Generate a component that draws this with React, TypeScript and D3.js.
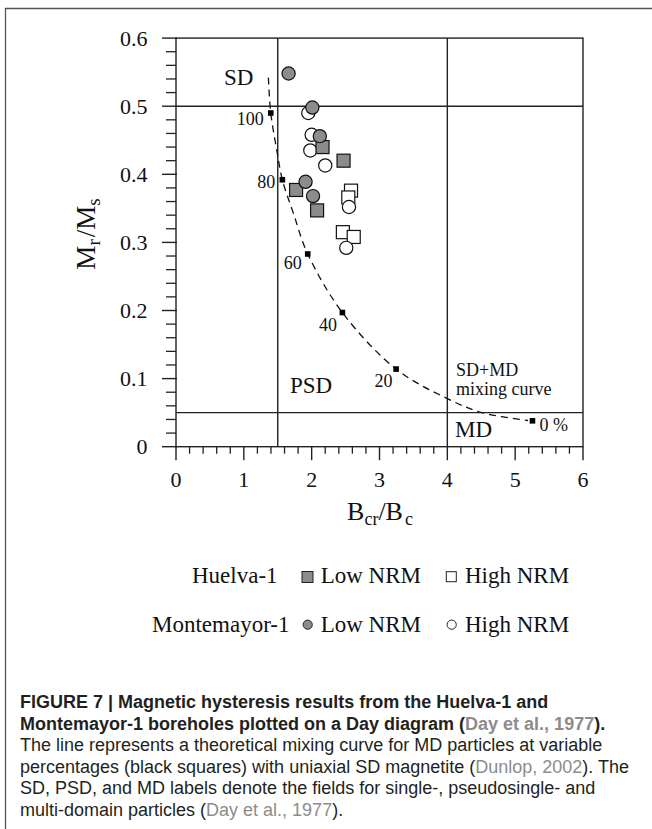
import React from "react";
import * as d3 from "d3";

const W = 652;
const H = 829;

// axis ticks
const xTickValues = [0, 1, 2, 3, 4, 5, 6];
const yTickValues = [0, 0.1, 0.2, 0.3, 0.4, 0.5, 0.6];

// data series [Bcr/Bc, Mr/Ms]
const huelvaLow: [number, number][] = [
  [2.16, 0.44],
  [2.47, 0.42],
  [1.77, 0.377],
  [2.08, 0.347],
];
const huelvaHigh: [number, number][] = [
  [2.58, 0.376],
  [2.54, 0.366],
  [2.46, 0.315],
  [2.62, 0.308],
];
const montLow: [number, number][] = [
  [1.66, 0.548],
  [2.01, 0.498],
  [2.12, 0.456],
  [1.91, 0.389],
  [2.02, 0.368],
];
const montHigh: [number, number][] = [
  [1.95, 0.49],
  [2.0, 0.458],
  [1.98, 0.435],
  [2.2, 0.413],
  [2.55, 0.352],
  [2.51, 0.292],
];

// SD+MD mixing curve
const curvePoints: [number, number][] = [
  [1.362, 0.542],
  [1.397, 0.49],
  [1.485, 0.436],
  [1.568, 0.392],
  [1.73, 0.343],
  [1.942, 0.283],
  [2.453, 0.197],
  [3.245, 0.114],
  [3.993, 0.071],
  [4.509, 0.05],
  [5.19, 0.0385],
];
const mixPct = ["100", "80", "60", "40", "20", "0 %"];
const mixX = [1.397, 1.568, 1.942, 2.453, 3.245, 5.255];
const mixY = [0.49, 0.392, 0.283, 0.197, 0.114, 0.038];

// field boundaries
const boundaryX = [1.5, 4];
const boundaryY = [0.5, 0.05];

// layout
const M = { left: 176, right: 583, top: 38.1, bottom: 446.7 };
// label offsets for mixing-curve percentages (px relative to marker)
const mixLabelOffset: [number, number, string][] = [
  [-7, 12, "end"],
  [-7, 8, "end"],
  [-6, 15, "end"],
  [-5.5, 18, "end"],
  [-3.5, 17.5, "end"],
  [7, 10.5, "start"],
];

const serif = "'Liberation Serif', 'Times New Roman', serif";
const capFont = "'Liberation Sans', Arial, sans-serif";
const GREY = "#8c8c8c";

export default function App() {
  const x = d3.scaleLinear().domain([0, 6]).range([M.left, M.right]);
  const y = d3.scaleLinear().domain([0, 0.6]).range([M.bottom, M.top]);

  const xMinor = d3.range(0, 6.0001, 0.2).filter((v) => Math.abs(v - Math.round(v)) > 1e-6);
  const yMinor = d3.range(0, 0.6001, 0.02).filter((v) => Math.abs(v * 10 - Math.round(v * 10)) > 1e-6);

  const line = d3
    .line<[number, number]>()
    .x((d) => x(d[0]))
    .y((d) => y(d[1]))
    .curve(d3.curveCatmullRom.alpha(0.5));

  const S = 13; // data square side
  const R = 6.6; // data circle radius

  const square = (d: [number, number], fill: string, k: string) => (
    <rect key={k} x={x(d[0]) - S / 2} y={y(d[1]) - S / 2} width={S} height={S} fill={fill} stroke="#111" strokeWidth={1.2} />
  );
  const circle = (d: [number, number], fill: string, k: string) => (
    <circle key={k} cx={x(d[0])} cy={y(d[1])} r={R} fill={fill} stroke="#111" strokeWidth={1.2} />
  );

  const cap1 = 708;
  const capStep = 21.5;

  return (
    <svg
      width={W}
      height={H}
      style={{ position: "absolute", left: 0, top: 0, background: "#fff" }}
      xmlns="http://www.w3.org/2000/svg"
    >
      <rect x={0} y={0} width={W} height={H} fill="#fff" />
      {/* figure box */}
      <path d={`M5.5,${H + 5} V8.5 H${W + 5}`} fill="none" stroke="#555" strokeWidth={1.3} />

      {/* plot frame */}
      <rect x={M.left} y={M.top} width={M.right - M.left} height={M.bottom - M.top} fill="none" stroke="#222" strokeWidth={1.4} />
      {boundaryX.map((v) => (
        <line key={"bx" + v} x1={x(v)} x2={x(v)} y1={M.top} y2={M.bottom} stroke="#222" strokeWidth={1.4} />
      ))}
      {boundaryY.map((v) => (
        <line key={"by" + v} x1={M.left} x2={M.right} y1={y(v)} y2={y(v)} stroke="#222" strokeWidth={1.4} />
      ))}

      {/* y ticks */}
      {yTickValues.map((v) => (
        <g key={"yt" + v}>
          <line x1={M.left - 14} x2={M.left + 1} y1={y(v)} y2={y(v)} stroke="#222" strokeWidth={1.4} />
          <text x={147.5} y={y(v)} dy="0.35em" textAnchor="end" fontFamily={serif} fontSize={22} fill="#111">
            {v === 0 ? "0" : v.toFixed(1)}
          </text>
        </g>
      ))}
      {yMinor.map((v) => (
        <line key={"ym" + v} x1={M.left - 10} x2={M.left} y1={y(v)} y2={y(v)} stroke="#222" strokeWidth={1.3} />
      ))}

      {/* x ticks */}
      {xTickValues.map((v) => (
        <g key={"xt" + v}>
          <line x1={x(v)} x2={x(v)} y1={M.bottom} y2={M.bottom + 13.5} stroke="#222" strokeWidth={1.4} />
          <text x={x(v)} y={486.7} textAnchor="middle" fontFamily={serif} fontSize={22} fill="#111">
            {v}
          </text>
        </g>
      ))}
      {xMinor.map((v) => (
        <line key={"xm" + v} x1={x(v)} x2={x(v)} y1={M.bottom} y2={M.bottom + 7} stroke="#222" strokeWidth={1.3} />
      ))}

      {/* axis titles */}
      <text x={380} y={520} textAnchor="middle" fontFamily={serif} fontSize={26} fill="#111">
        B<tspan fontSize={18} dy={5}>cr</tspan>
        <tspan dy={-5}>/B</tspan>
        <tspan fontSize={18} dy={5} dx={2}>c</tspan>
      </text>
      <text
        transform={`translate(95,234) rotate(-90)`}
        textAnchor="middle"
        fontFamily={serif}
        fontSize={27}
        fill="#111"
      >
        M<tspan fontSize={19} dy={5}>r</tspan>
        <tspan dy={-5} dx={2}>/M</tspan>
        <tspan fontSize={19} dy={5}>s</tspan>
      </text>

      {/* region labels */}
      <text x={224} y={85} fontFamily={serif} fontSize={23} fill="#111">SD</text>
      <text x={290} y={392.7} fontFamily={serif} fontSize={23} fill="#111">PSD</text>
      <text x={455} y={437} fontFamily={serif} fontSize={23} fill="#111">MD</text>
      <text x={456} y={376} fontFamily={serif} fontSize={18} fill="#111">SD+MD</text>
      <text x={456} y={395} fontFamily={serif} fontSize={18} fill="#111">mixing curve</text>

      {/* mixing curve */}
      <path d={line(curvePoints) || ""} fill="none" stroke="#111" strokeWidth={1.3} strokeDasharray="7 5" />
      {mixX.map((v, i) => (
        <g key={"mx" + i}>
          <rect x={x(v) - 2.8} y={y(mixY[i]) - 2.8} width={5.6} height={5.6} fill="#000" />
          <text
            x={x(v) + mixLabelOffset[i][0]}
            y={y(mixY[i]) + mixLabelOffset[i][1]}
            textAnchor={mixLabelOffset[i][2] as any}
            fontFamily={serif}
            fontSize={18}
            fill="#111"
          >
            {mixPct[i]}
          </text>
        </g>
      ))}

      {/* data */}
      {huelvaHigh.map((d, i) => square(d, "#fff", "hh" + i))}
      {montHigh.map((d, i) => circle(d, "#fff", "mh" + i))}
      {huelvaLow.map((d, i) => square(d, GREY, "hl" + i))}
      {montLow.map((d, i) => circle(d, GREY, "ml" + i))}

      {/* legend */}
      <g fontFamily={serif} fontSize={23} fill="#111">
        <text x={192} y={583}>Huelva-1</text>
        <rect x={302} y={571.5} width={11} height={11} fill={GREY} stroke="#222" strokeWidth={1} />
        <text x={320.7} y={583}>Low NRM</text>
        <rect x={446.3} y={571.7} width={10} height={10} fill="#fff" stroke="#222" strokeWidth={1} />
        <text x={465} y={583}>High NRM</text>

        <text x={152} y={632}>Montemayor-1</text>
        <circle cx={307.7} cy={624.7} r={4.6} fill={GREY} stroke="#222" strokeWidth={1} />
        <text x={320.7} y={632}>Low NRM</text>
        <circle cx={451.7} cy={624.7} r={4.6} fill="#fff" stroke="#222" strokeWidth={1} />
        <text x={465} y={632}>High NRM</text>
      </g>

      {/* caption */}
      <g fontFamily={capFont} fontSize={18} fill="#231f20">
        <text x={20} y={cap1} fontWeight="bold">
          FIGURE 7 | Magnetic hysteresis results from the Huelva-1 and
        </text>
        <text x={20} y={cap1 + capStep} fontWeight="bold">
          Montemayor-1 boreholes plotted on a Day diagram (<tspan fill={GREY}>Day et al., 1977</tspan>).
        </text>
        <text x={20} y={cap1 + capStep * 2}>
          The line represents a theoretical mixing curve for MD particles at variable
        </text>
        <text x={20} y={cap1 + capStep * 3}>
          percentages (black squares) with uniaxial SD magnetite (<tspan fill={GREY}>Dunlop, 2002</tspan>). The
        </text>
        <text x={20} y={cap1 + capStep * 4}>
          SD, PSD, and MD labels denote the fields for single-, pseudosingle- and
        </text>
        <text x={20} y={cap1 + capStep * 5}>
          multi-domain particles (<tspan fill={GREY}>Day et al., 1977</tspan>).
        </text>
      </g>
    </svg>
  );
}
